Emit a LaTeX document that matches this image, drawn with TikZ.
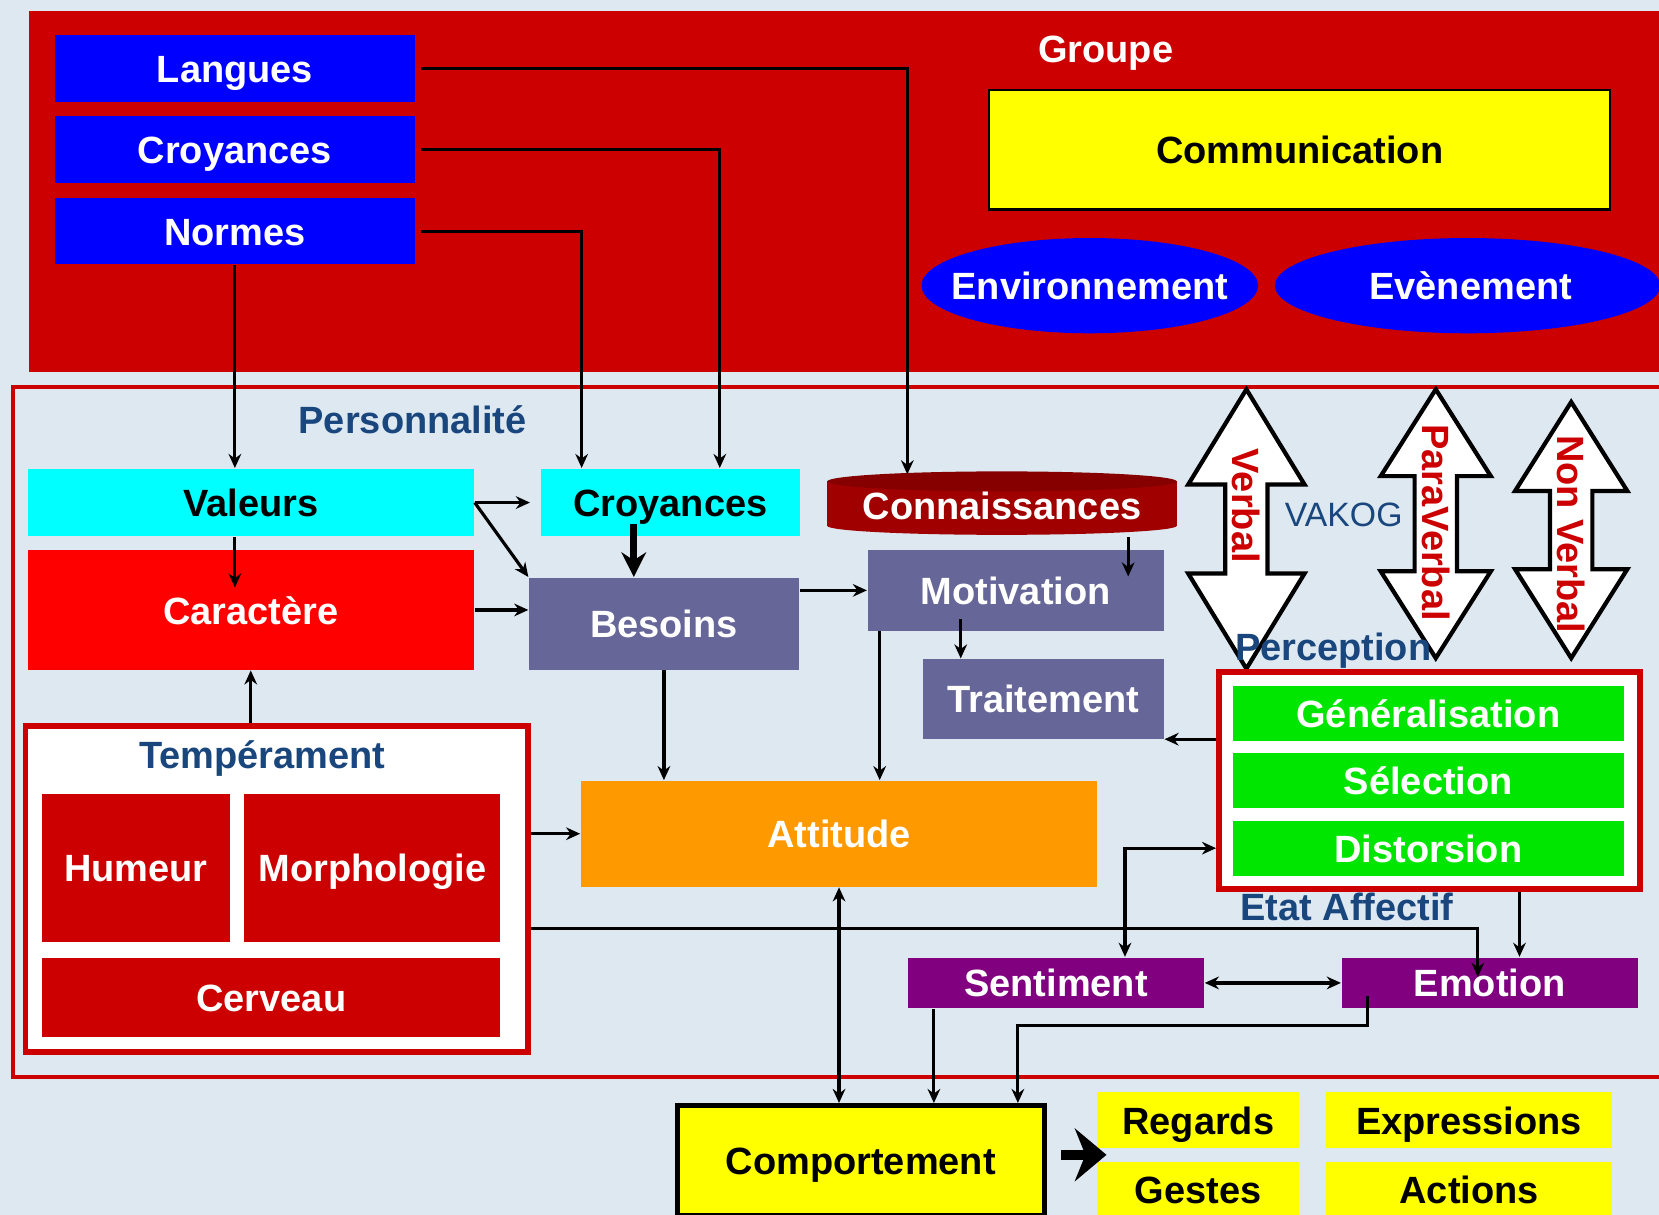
\documentclass[tikz,border=0pt]{standalone}
\usepackage{fontspec}
\setmainfont{Liberation Sans}
\usetikzlibrary{positioning}
\usetikzlibrary{shapes}
\usetikzlibrary{arrows.meta}
\usetikzlibrary{calc}

\definecolor{fondbleu}{RGB}{221,232,240}
\definecolor{rouge}{RGB}{204,0,0}
\definecolor{rougevif}{RGB}{255,0,0}
\definecolor{bordeaux}{RGB}{160,0,0}
\definecolor{rougesombre}{RGB}{135,0,0}
\definecolor{bleuvif}{RGB}{0,0,255}
\definecolor{cyanclair}{RGB}{0,255,255}
\definecolor{ardoise}{RGB}{102,102,153}
\definecolor{orangeatt}{RGB}{255,153,0}
\definecolor{vert}{RGB}{0,230,0}
\definecolor{pourpre}{RGB}{128,0,128}
\definecolor{jaune}{RGB}{255,255,0}
\definecolor{bleutitre}{RGB}{25,70,125}

\newcommand{\gras}{\fontsize{10.8}{13}\selectfont\bfseries}

\tikzset{
	sz/.style 2 args={minimum width=#1*0.01058cm, minimum height=#2*0.01058cm},
	boite/.style={rectangle, inner sep=0pt, font=\gras, text=white, text height=0.8em, text depth=0pt},
	bleu/.style={boite, fill=bleuvif, sz={340}{63}},
	clair/.style={boite, fill=cyanclair, text=black},
	gris/.style={boite, fill=ardoise},
	vertbox/.style={boite, fill=vert, sz={370}{52}},
	violetbox/.style={boite, fill=pourpre, sz={280}{48}},
	jaunebox/.style={boite, fill=jaune, text=black},
	cadre/.style={draw=rouge, line width=1.6pt, fill=white, inner sep=0pt},
	titre/.style={font=\gras, text=bleutitre},
	fleche/.style={-{Stealth[length=4pt,width=3.6pt]}, line width=0.9pt},
	deuxsens/.style={{Stealth[length=4pt,width=3.6pt]}-{Stealth[length=4pt,width=3.6pt]}, line width=0.9pt},
}

\begin{document}
\begin{tikzpicture}[x=0.01058cm, y=-0.01058cm]
				\useasboundingbox (0,0) rectangle (1568,1148);
				\clip (0,0) rectangle (1568,1148);
				\fill[fondbleu] (0,0) rectangle (1568,1148);

				% Groupe
				\fill[rouge] (27,10) rectangle (1620,352);
				\node[bleu] (lang) at (222,64.5) {Langues};
				\node[bleu] (crg) at (222,141.5) {Croyances};
				\node[bleu] (norm) at (222,218.5) {Normes};
				\node[font=\gras, text=white] (grp) at (1045,50) {Groupe};
				\node[jaunebox, draw=black, line width=0.6pt, sz={587}{113}] (com) at (1228.5,141.5) {Communication};
				\fill[bleuvif] (1030,270) ellipse [x radius=1.682cm, y radius=0.476cm];
				\fill[bleuvif] (1387,270) ellipse [x radius=1.926cm, y radius=0.476cm];
				\node[boite] (env) at (1030,270) {Environnement};
				\node[boite] (evt) at (1390,270) {Evènement};

				% Personnalite
				\draw[rouge, line width=1.2pt] (12,366) rectangle (1620,1018);
				\node[titre] (perso) at (390,397) {Personnalité};
				\node[clair, sz={422}{64}] (val) at (237,475) {Valeurs};
				\node[boite, fill=rougevif, sz={422}{113}] (car) at (237,576.5) {Caractère};
				\node[clair, sz={245}{64}] (crv) at (633.5,475) {Croyances};
				\node[gris, sz={255}{87}] (bes) at (627.5,589.5) {Besoins};
				\fill[bordeaux] (782,455) rectangle (1112,497);
				\fill[bordeaux] (947,497) ellipse [x radius=1.746cm, y radius=0.09cm];
				\fill[rougesombre] (947,455) ellipse [x radius=1.746cm, y radius=0.1cm];
				\node[boite, sz={330}{58}] (conn) at (947,478) {Connaissances};
				\node[gris, sz={280}{76}] (mot) at (960,558) {Motivation};
				\node[gris, sz={228}{75}] (trait) at (986,660.5) {Traitement};
				\node[boite, fill=orangeatt, sz={488}{100}] (att) at (793,788) {Attitude};

				% Temperament
				\node[cadre, sz={475}{308}] (temp) at (261.5,840) {};
				\node[titre] (tit-temp) at (248,717) {Tempérament};
				\node[boite, fill=rouge, sz={177}{140}] (hum) at (128.5,820) {Humeur};
				\node[boite, fill=rouge, sz={242}{140}] (morph) at (352,820) {Morphologie};
				\node[boite, fill=rouge, sz={433}{75}] (cerv) at (256.5,942.5) {Cerveau};

				% VAKOG
				\foreach \x/\yh/\yb/\hw/\hl/\ty/\txt in {1178/368/632/55/90/478/Verbal, 1357/368/622/52/82/494/ParaVerbal, 1485/380/622/53/84/505/Non Verbal}{
					\draw[fill=white, line width=1.2pt, line join=miter] (\x,\yh) -- ({\x+\hw},{\yh+\hl}) -- ({\x+20},{\yh+\hl}) -- ({\x+20},{\yb-\hl}) -- ({\x+\hw},{\yb-\hl}) -- (\x,\yb) -- ({\x-\hw},{\yb-\hl}) -- ({\x-20},{\yb-\hl}) -- ({\x-20},{\yh+\hl}) -- ({\x-\hw},{\yh+\hl}) -- cycle;
					\node[rotate=-90, font=\gras, text=rouge] (fl-\x) at (\x,\ty) {\txt};
				}
				\node[font=\fontsize{9.6}{11}\selectfont, text=bleutitre] (vak) at (1270,487) {VAKOG};

				% Perception
				\node[cadre, sz={398}{205}] (perc) at (1351,737.5) {};
				\node[titre] (tit-perc) at (1260,615) {Perception};
				\node[vertbox] (gen) at (1350,674) {Généralisation};
				\node[vertbox] (sel) at (1350,738) {Sélection};
				\node[vertbox] (dist) at (1350,802) {Distorsion};

				% Etat affectif
				\node[titre] (tit-etat) at (1273,857) {Etat Affectif};
				\node[violetbox] (sent) at (998,929) {Sentiment};
				\node[violetbox] (emo) at (1408,929) {Emotion};

				% Comportement
				\node[jaunebox, draw=black, line width=1.5pt, sz={347}{104}] (comp) at (813.5,1097) {Comportement};
				\node[jaunebox, sz={191}{53}] (reg) at (1132.5,1058.5) {Regards};
				\node[jaunebox, sz={271}{53}] (expr) at (1388.5,1058.5) {Expressions};
				\node[jaunebox, sz={191}{52}] (ges) at (1132.5,1124) {Gestes};
				\node[jaunebox, sz={271}{52}] (act) at (1388.5,1124) {Actions};

				% Connexions
				\coordinate (cb) at ($(crv.south west)!0.36!(crv.south east)$);
				\coordinate (cm) at ($(conn.south west)!0.86!(conn.south east)$);
				\coordinate (mt) at ($(trait.north west)!0.16!(trait.north east)$);
				\coordinate (ma) at ($(mot.south west)!0.043!(mot.south east)$);
				\coordinate (te) at ($(temp.north east)!0.62!(temp.south east)$);
				\coordinate (ee) at ($(emo.north west)!0.46!(emo.north east)$);
				\coordinate (pd) at ($(perc.north west)!0.805!(perc.south west)$);
				\coordinate (sn) at ($(sent.north west)!0.732!(sent.north east)$);
				\coordinate (pe) at ($(emo.north west)!0.6!(emo.north east)$);
				\coordinate (sc) at ($(sent.south west)!0.09!(sent.south east)$);
				\coordinate (es) at ($(emo.south west)!0.09!(emo.south east)$);
				\coordinate (ce) at ($(comp.north west)!0.922!(comp.north east)$);
				\coordinate (chev) at ($(reg.south west)!0.5!(ges.north west)$);

				\draw[fleche] ([xshift=0.06cm]lang.east) -| ($(conn.north west)!0.23!(conn.north east)$);
				\draw[fleche] ([xshift=0.06cm]crg.east) -| ($(crv.north west)!0.69!(crv.north east)$);
				\draw[fleche] ([xshift=0.06cm]norm.east) -| ($(crv.north west)!0.16!(crv.north east)$);
				\draw[fleche] (norm.south) -- (norm.south |- val.north);
				\draw[fleche, shorten >=-0.38cm] (norm.south |- val.south) -- (norm.south |- car.north);
				\draw[fleche, shorten >=0.1cm] (val.east) -- (val.east -| crv.west);
				\draw[fleche] (val.east) -- (bes.north west);
				\draw[fleche] (car.east) -- (car.east -| bes.west);
				\draw[-{Stealth[length=7pt,width=7pt]}, line width=2pt, shorten <=-0.13cm] (cb) -- (cb |- bes.north);
				\draw[fleche] (car.south |- temp.north) -- (car.south);
				\draw[fleche] (bes.south) -- (bes.south |- att.north);
				\draw[fleche] (mot.west -| bes.east) -- (mot.west);
				\draw[fleche, shorten >=-0.27cm] (cm) -- (cm |- mot.north);
				\draw[fleche, shorten <=-0.12cm] (mt |- mot.south) -- (mt);
				\draw[fleche] (ma) -- (ma |- att.north);
				\draw[fleche] (trait.south east -| perc.west) -- (trait.south east);
				\draw[fleche] (temp.east |- att.west) -- (att.west);
				\draw[fleche, shorten >=-0.2cm] (te) -| (ee);
				\draw[deuxsens] (sn) |- (pd);
				\draw[fleche] (pe |- perc.south) -- (pe);
				\draw[deuxsens] (sent.east) -- (emo.west);
				\draw[fleche] (sc) -- (sc |- comp.north);
				\draw[fleche] ([yshift=0.13cm]es) -- ++(0,28) -| (ce);
				\draw[deuxsens] (att.south) -- (att.south |- comp.north);
				\draw[line width=3pt, -{Stealth[length=9pt,width=15pt,inset=3pt]}] ([xshift=0.14cm]comp.east |- chev) -- ([xshift=0.1cm]chev);
\end{tikzpicture}
\end{document}
